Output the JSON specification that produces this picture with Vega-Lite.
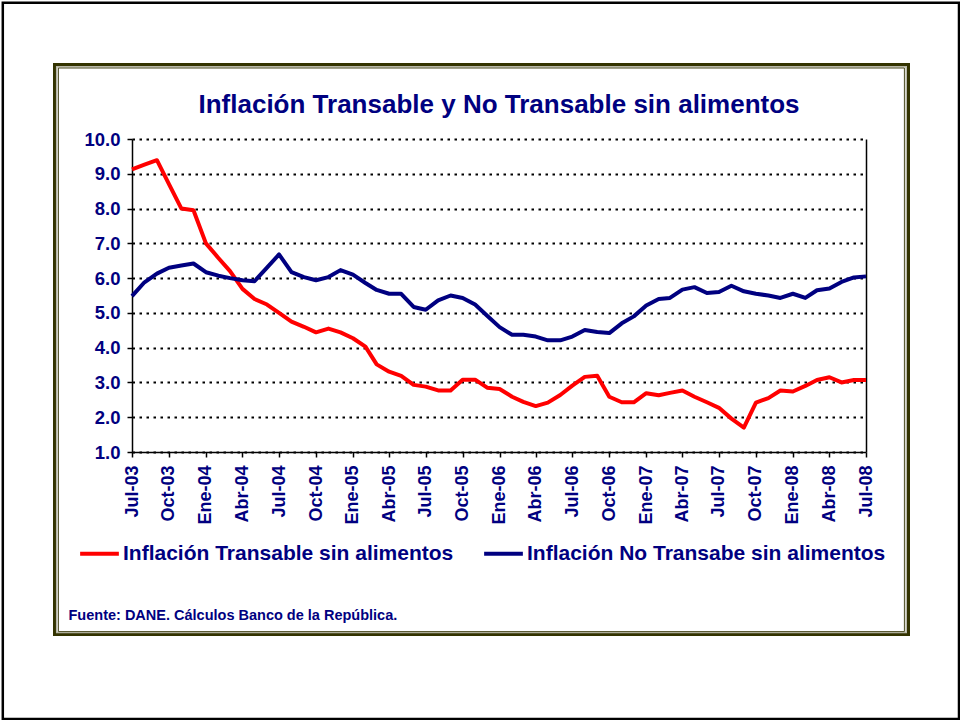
{
  "$schema": "https://vega.github.io/schema/vega-lite/v6.json",
  "width": 734,
  "height": 313,
  "autosize": {"type": "none"},
  "padding": {"left": 132, "top": 139, "right": 94, "bottom": 268},
  "background": "white",
  "config": {"view": {"stroke": null}, "font": "Liberation Sans"},
  "title": {
    "text": "Inflación Transable y No Transable sin alimentos",
    "font": "Liberation Sans",
    "fontSize": 26,
    "fontWeight": "bold",
    "color": "#000080",
    "anchor": "middle",
    "frame": "group",
    "baseline": "alphabetic",
    "offset": 0,
    "dy": 137.5
  },
  "datasets": {
    "serie": [
      {"fecha": "2003-07-01", "transable": 9.13, "no_transable": 5.48},
      {"fecha": "2003-08-01", "transable": 9.26, "no_transable": 5.88},
      {"fecha": "2003-09-01", "transable": 9.39, "no_transable": 6.13},
      {"fecha": "2003-10-01", "transable": 8.70, "no_transable": 6.30},
      {"fecha": "2003-11-01", "transable": 8.00, "no_transable": 6.36},
      {"fecha": "2003-12-01", "transable": 7.95, "no_transable": 6.42},
      {"fecha": "2004-01-01", "transable": 7.00, "no_transable": 6.17},
      {"fecha": "2004-02-01", "transable": 6.58, "no_transable": 6.07},
      {"fecha": "2004-03-01", "transable": 6.20, "no_transable": 6.00},
      {"fecha": "2004-04-01", "transable": 5.69, "no_transable": 5.94},
      {"fecha": "2004-05-01", "transable": 5.40, "no_transable": 5.91},
      {"fecha": "2004-06-01", "transable": 5.24, "no_transable": 6.30},
      {"fecha": "2004-07-01", "transable": 5.00, "no_transable": 6.68},
      {"fecha": "2004-08-01", "transable": 4.75, "no_transable": 6.17},
      {"fecha": "2004-09-01", "transable": 4.60, "no_transable": 6.03},
      {"fecha": "2004-10-01", "transable": 4.44, "no_transable": 5.94},
      {"fecha": "2004-11-01", "transable": 4.55, "no_transable": 6.03},
      {"fecha": "2004-12-01", "transable": 4.44, "no_transable": 6.23},
      {"fecha": "2005-01-01", "transable": 4.27, "no_transable": 6.10},
      {"fecha": "2005-02-01", "transable": 4.03, "no_transable": 5.86},
      {"fecha": "2005-03-01", "transable": 3.52, "no_transable": 5.66},
      {"fecha": "2005-04-01", "transable": 3.31, "no_transable": 5.55},
      {"fecha": "2005-05-01", "transable": 3.19, "no_transable": 5.55},
      {"fecha": "2005-06-01", "transable": 2.93, "no_transable": 5.17},
      {"fecha": "2005-07-01", "transable": 2.88, "no_transable": 5.09},
      {"fecha": "2005-08-01", "transable": 2.77, "no_transable": 5.36},
      {"fecha": "2005-09-01", "transable": 2.77, "no_transable": 5.50},
      {"fecha": "2005-10-01", "transable": 3.08, "no_transable": 5.43},
      {"fecha": "2005-11-01", "transable": 3.08, "no_transable": 5.24},
      {"fecha": "2005-12-01", "transable": 2.85, "no_transable": 4.92},
      {"fecha": "2006-01-01", "transable": 2.81, "no_transable": 4.59},
      {"fecha": "2006-02-01", "transable": 2.59, "no_transable": 4.37},
      {"fecha": "2006-03-01", "transable": 2.44, "no_transable": 4.37},
      {"fecha": "2006-04-01", "transable": 2.32, "no_transable": 4.32},
      {"fecha": "2006-05-01", "transable": 2.42, "no_transable": 4.21},
      {"fecha": "2006-06-01", "transable": 2.64, "no_transable": 4.21},
      {"fecha": "2006-07-01", "transable": 2.91, "no_transable": 4.32},
      {"fecha": "2006-08-01", "transable": 3.16, "no_transable": 4.51},
      {"fecha": "2006-09-01", "transable": 3.19, "no_transable": 4.45},
      {"fecha": "2006-10-01", "transable": 2.59, "no_transable": 4.42},
      {"fecha": "2006-11-01", "transable": 2.43, "no_transable": 4.70},
      {"fecha": "2006-12-01", "transable": 2.43, "no_transable": 4.90},
      {"fecha": "2007-01-01", "transable": 2.69, "no_transable": 5.21},
      {"fecha": "2007-02-01", "transable": 2.63, "no_transable": 5.40},
      {"fecha": "2007-03-01", "transable": 2.70, "no_transable": 5.43},
      {"fecha": "2007-04-01", "transable": 2.77, "no_transable": 5.67},
      {"fecha": "2007-05-01", "transable": 2.59, "no_transable": 5.74},
      {"fecha": "2007-06-01", "transable": 2.43, "no_transable": 5.57},
      {"fecha": "2007-07-01", "transable": 2.27, "no_transable": 5.60},
      {"fecha": "2007-08-01", "transable": 1.96, "no_transable": 5.78},
      {"fecha": "2007-09-01", "transable": 1.70, "no_transable": 5.62},
      {"fecha": "2007-10-01", "transable": 2.42, "no_transable": 5.55},
      {"fecha": "2007-11-01", "transable": 2.55, "no_transable": 5.50},
      {"fecha": "2007-12-01", "transable": 2.77, "no_transable": 5.43},
      {"fecha": "2008-01-01", "transable": 2.74, "no_transable": 5.55},
      {"fecha": "2008-02-01", "transable": 2.90, "no_transable": 5.43},
      {"fecha": "2008-03-01", "transable": 3.07, "no_transable": 5.65},
      {"fecha": "2008-04-01", "transable": 3.15, "no_transable": 5.70},
      {"fecha": "2008-05-01", "transable": 3.00, "no_transable": 5.89},
      {"fecha": "2008-06-01", "transable": 3.07, "no_transable": 6.02},
      {"fecha": "2008-07-01", "transable": 3.07, "no_transable": 6.05}
    ]
  },
  "layer": [
    {
      "data": {"values": [{}]},
      "mark": {"type": "rect", "fill": null, "stroke": "#000000", "strokeWidth": 2.5},
      "encoding": {"x": {"value": -129.2}, "x2": {"value": 827}, "y": {"value": -136.2}, "y2": {"value": 580}}
    },
    {
      "data": {"values": [{}]},
      "mark": {"type": "rect", "fill": null, "stroke": "#333300", "strokeWidth": 3},
      "encoding": {"x": {"value": -77.5}, "x2": {"value": 776.5}, "y": {"value": -74.5}, "y2": {"value": 495.5}}
    },
    {
      "data": {"values": [{}]},
      "mark": {"type": "rect", "fill": null, "stroke": "#b8b8a8", "strokeWidth": 1.5},
      "encoding": {"x": {"value": -75.3}, "x2": {"value": 774.2}, "y": {"value": -72.3}, "y2": {"value": 493.6}}
    },
    {
      "data": {"values": [{}]},
      "mark": {"type": "rect", "fill": null, "stroke": "#4a4a20", "strokeWidth": 1},
      "encoding": {"x": {"value": -73.6}, "x2": {"value": 772.4}, "y": {"value": -71}, "y2": {"value": 492.6}}
    },
    {
      "data": {"name": "serie"},
      "transform": [{"fold": ["transable", "no_transable"], "as": ["serie", "valor"]}],
      "encoding": {
        "x": {
          "field": "fecha",
          "type": "temporal",
          "scale": {
            "type": "utc",
            "nice": false,
            "domain": [
              {"year": 2003, "month": 7, "date": 1, "utc": true},
              {"year": 2008, "month": 7, "date": 1, "utc": true}
            ]
          },
          "axis": {
            "tickCount": {"interval": "month", "step": 3},
            "labelExpr": "['Ene','Feb','Mar','Abr','May','Jun','Jul','Ago','Sep','Oct','Nov','Dic'][utcmonth(datum.value)] + '-' + utcFormat(datum.value, '%y')",
            "labelAngle": -90,
            "labelFont": "Liberation Sans",
            "labelFontSize": 18,
            "labelFontWeight": "bold",
            "labelColor": "#000080",
            "labelPadding": 8,
            "labelOverlap": false,
            "labelFlush": false,
            "labelBound": false,
            "tickColor": "#000000",
            "tickSize": 5,
            "tickWidth": 1.5,
            "domainColor": "#000000",
            "domainWidth": 1.5,
            "grid": false,
            "title": "Fuente: DANE. Cálculos Banco de la República.",
            "titleFont": "Liberation Sans",
            "titleFontSize": 14.5,
            "titleFontWeight": "bold",
            "titleColor": "#000080",
            "titleAnchor": "start",
            "titleAlign": "left",
            "titleBaseline": "alphabetic",
            "titleX": -64,
            "titleY": 167,
            "titleAngle": 0
          }
        },
        "color": {
          "field": "serie",
          "type": "nominal",
          "scale": {"domain": ["transable", "no_transable"], "range": ["#FF0000", "#000080"]},
          "legend": {
            "orient": "none",
            "legendX": -54,
            "legendY": 393,
            "direction": "horizontal",
            "title": null,
            "symbolType": "stroke",
            "symbolSize": 1500,
            "symbolStrokeWidth": 4,
            "labelFont": "Liberation Sans",
            "labelFontSize": 21,
            "labelFontWeight": "bold",
            "labelColor": "#000080",
            "labelLimit": 600,
            "labelOffset": 2,
            "columnPadding": 22,
            "padding": 0,
            "labelExpr": "datum.value == 'transable' ? 'Inflación Transable sin alimentos' : 'Inflación No Transabe sin alimentos'"
          }
        }
      },
      "layer": [
        {
          "transform": [{"filter": "datum.serie == 'transable'"}],
          "mark": {"type": "line", "strokeWidth": 4, "strokeJoin": "round"},
          "encoding": {
            "y": {
              "field": "valor",
              "type": "quantitative",
              "scale": {"domain": [1, 10], "nice": false, "zero": false},
              "axis": {
                "orient": "left",
                "values": [1, 2, 3, 4, 5, 6, 7, 8, 9, 10],
                "format": ".1f",
                "title": null,
                "labelFont": "Liberation Sans",
                "labelFontSize": 18.5,
                "labelFontWeight": "bold",
                "labelColor": "#000080",
                "labelPadding": 7,
                "tickColor": "#000000",
                "tickSize": 5,
                "tickWidth": 1.5,
                "domainColor": "#000000",
                "domainWidth": 1.5,
                "grid": true,
                "gridColor": "#000000",
                "gridWidth": 2,
                "gridDash": [2.5, 4.5]
              }
            }
          }
        },
        {
          "transform": [{"filter": "datum.serie == 'no_transable'"}],
          "mark": {"type": "line", "strokeWidth": 4, "strokeJoin": "round"},
          "encoding": {
            "y": {
              "field": "valor",
              "type": "quantitative",
              "scale": {"domain": [1, 10], "nice": false, "zero": false},
              "axis": {
                "orient": "right",
                "title": null,
                "labels": false,
                "ticks": false,
                "grid": false,
                "domainColor": "#000000",
                "domainWidth": 1.5
              }
            }
          }
        }
      ],
      "resolve": {"axis": {"y": "independent"}}
    }
  ],
  "resolve": {"axis": {"y": "independent"}}
}
